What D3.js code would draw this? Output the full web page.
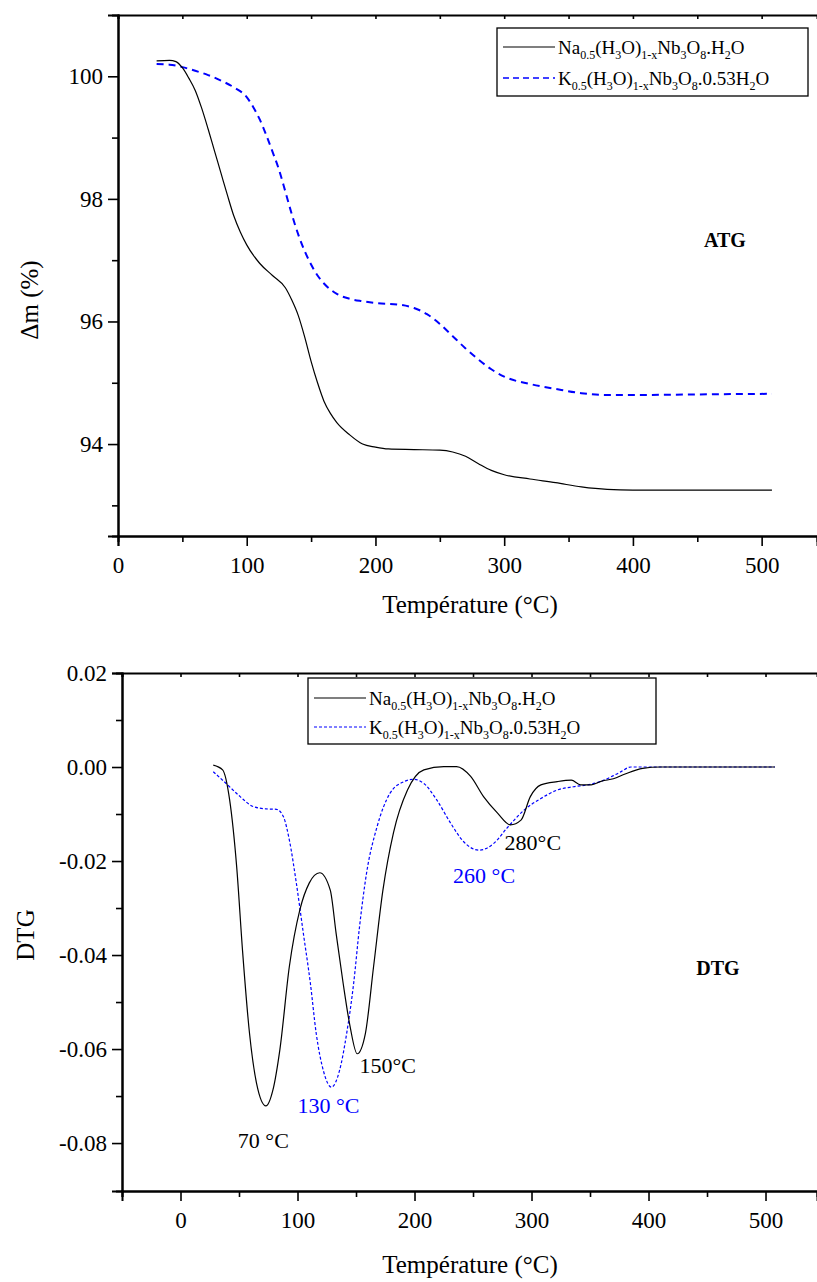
<!DOCTYPE html>
<html>
<head>
<meta charset="utf-8">
<script src="https://cdn.jsdelivr.net/npm/d3@7"></script>
<style>
  body { margin: 0; background: #fff; }
  svg { display: block; }
  text { font-family: "Liberation Serif", "Times New Roman", serif; }
</style>
</head>
<body>
<svg width="817" height="1282"></svg>
<script>
// ATG : temperature (°C) and mass (%)
const atgNaT = [30, 40, 45, 50, 55, 60, 65, 70, 75, 80, 85, 90, 95, 100, 110, 120, 130, 135, 140, 145,
                150, 155, 160, 165, 170, 180, 190, 200, 210, 230, 250, 260, 270, 280, 290, 300, 320, 340, 360, 380,
                400, 450, 508];
const atgNaM = [100.25, 100.26, 100.24, 100.14, 99.97, 99.77, 99.48, 99.14, 98.78, 98.42, 98.06, 97.72, 97.46, 97.25, 96.95, 96.75, 96.55, 96.35, 96.1, 95.75,
                95.35, 95.0, 94.7, 94.5, 94.35, 94.15, 94.0, 93.95, 93.92, 93.91, 93.9, 93.87, 93.8, 93.68, 93.57, 93.5, 93.43, 93.37, 93.3, 93.26,
                93.25, 93.25, 93.25];

const atgKT = [30, 40, 50, 60, 70, 80, 90, 100, 105, 110, 115, 120, 125, 130, 135, 140, 145, 150, 155, 160,
               170, 180, 190, 200, 220, 230, 240, 250, 260, 270, 280, 290, 300, 320, 340, 360, 380, 400, 450, 508];
const atgKM = [100.2, 100.19, 100.15, 100.09, 100.02, 99.93, 99.82, 99.66, 99.5, 99.3, 99.05, 98.77, 98.48, 98.12, 97.75, 97.42, 97.15, 96.93, 96.75, 96.62,
               96.45, 96.37, 96.33, 96.3, 96.27, 96.22, 96.12, 95.96, 95.76, 95.56, 95.38, 95.22, 95.1, 94.98, 94.9, 94.83, 94.8, 94.8, 94.81, 94.82];

// DTG
const dtgNaT = [28, 36, 42, 48, 53, 59, 65, 73, 79, 85, 93, 102, 110, 119, 128, 133, 139, 145, 151, 158,
                165, 173, 182, 194, 208, 225, 236, 248, 259, 271, 282, 291, 299, 308, 322, 334, 342, 351, 360, 370,
                380, 395, 410, 450, 508];
const dtgNa = [0.0004, -0.0006, -0.007, -0.0212, -0.039, -0.0567, -0.0673, -0.0721, -0.0687, -0.060, -0.0425, -0.0304, -0.0247, -0.0225, -0.0262, -0.0354, -0.046, -0.0553, -0.061, -0.0567,
               -0.0425, -0.0262, -0.014, -0.0049, -0.0006, 0.0001, 0.0001, -0.002, -0.0063, -0.0098, -0.0123, -0.0113, -0.0063, -0.0038, -0.0031, -0.0028, -0.0038, -0.0038, -0.003, -0.0025,
               -0.0015, -0.0003, 0, 0, 0];

const dtgKT = [28, 39, 51, 62, 73, 82, 88, 93, 99, 105, 111, 116, 122, 129, 136, 142, 148, 153, 159, 168,
               179, 191, 199, 208, 219, 231, 242, 255, 268, 279, 294, 308, 322, 336, 348, 360, 375, 385, 420, 508];
const dtgK = [-0.001, -0.0035, -0.0063, -0.0084, -0.0089, -0.009, -0.0106, -0.0155, -0.0247, -0.0354, -0.046, -0.0567, -0.0645, -0.0681, -0.0645, -0.0567, -0.046, -0.034, -0.0226, -0.0127,
              -0.0056, -0.0031, -0.0026, -0.0035, -0.007, -0.012, -0.0159, -0.0177, -0.0162, -0.013, -0.0091, -0.0067, -0.0049, -0.0042, -0.0038, -0.003, -0.0012, 0, 0, 0];

// ticks
const atgXTicks = [0, 100, 200, 300, 400, 500];
const atgXMinor = [50, 150, 250, 350, 450];
const atgYTicks = [94, 96, 98, 100];
const atgYMinor = [93, 95, 97, 99];
const dtgXTicks = [0, 100, 200, 300, 400, 500];
const dtgXMinor = [-50, 50, 150, 250, 350, 450];
const dtgYTicks = [-0.08, -0.06, -0.04, -0.02, 0, 0.02];
const dtgYMinor = [-0.07, -0.05, -0.03, -0.01, 0.01];

// legend labels: [text, subscript?]
const labelNa = [["Na", 0], ["0.5", 1], ["(H", 0], ["3", 1], ["O)", 0], ["1-x", 1], ["Nb", 0], ["3", 1], ["O", 0], ["8", 1], [".H", 0], ["2", 1], ["O", 0]];
const labelK = [["K", 0], ["0.5", 1], ["(H", 0], ["3", 1], ["O)", 0], ["1-x", 1], ["Nb", 0], ["3", 1], ["O", 0], ["8", 1], [".0.53H", 0], ["2", 1], ["O", 0]];

// peak labels (placed in data units)
const dtgPeaks = [
    {text: "70 °C", t: 49, v: -0.081, color: "#000"},
    {text: "130 °C", t: 100, v: -0.0736, color: "#0000ff"},
    {text: "150°C", t: 153, v: -0.0651, color: "#000"},
    {text: "260 °C", t: 233, v: -0.0247, color: "#0000ff"},
    {text: "280°C", t: 277, v: -0.0177, color: "#000"}
];

const svg = d3.select("svg");
const BLUE = "#0000ff";
const SERIF = '"Liberation Serif", "Times New Roman", serif';

function drawAxes(g, sx, sy, area, xt, xm, yt, ym, yfmt) {
    const bottom = area.bottom, left = area.left;

    // minor ticks
    g.append("g").attr("transform", `translate(0,${bottom})`)
        .call(d3.axisBottom(sx).tickValues(xm).tickSize(6).tickFormat(""));
    g.append("g").attr("transform", `translate(${left},0)`)
        .call(d3.axisLeft(sy).tickValues(ym).tickSize(6).tickFormat(""));

    // major ticks with labels
    const ax = g.append("g").attr("transform", `translate(0,${bottom})`)
        .call(d3.axisBottom(sx).tickValues(xt).tickSize(10).tickPadding(7).tickFormat(d => d));
    const ay = g.append("g").attr("transform", `translate(${left},0)`)
        .call(d3.axisLeft(sy).tickValues(yt).tickSize(10).tickPadding(5).tickFormat(yfmt));

    // top border with small ticks
    g.append("g").attr("transform", `translate(0,${area.top})`)
        .call(d3.axisTop(sx).tickValues(xt.concat(xm)).tickSize(-4).tickFormat(""));

    g.selectAll("g").attr("font-family", null).attr("font-size", null);
    g.selectAll(".domain").attr("stroke-width", 2).attr("stroke", "#000");
    g.selectAll(".tick line").attr("stroke-width", 1.6);
    [ax, ay].forEach(a => a.selectAll("text")
        .style("font-family", SERIF)
        .style("font-size", "23px").attr("fill", "#000"));
    ax.selectAll("text").attr("dy", "0.85em");
}

function drawLegend(g, box, rows) {
    g.append("rect").attr("x", box.x).attr("y", box.y).attr("width", box.w).attr("height", box.h)
        .attr("fill", "#fff").attr("stroke", "#000").attr("stroke-width", 1.3);
    rows.forEach((r, i) => {
        const cy = box.y + box.first + i * box.step;
        g.append("line").attr("x1", box.x + 6).attr("x2", box.x + 58).attr("y1", cy).attr("y2", cy)
            .attr("stroke", r.color).attr("stroke-width", r.width).attr("stroke-dasharray", r.dash);
        const t = g.append("text").attr("x", box.x + 61).attr("y", cy + 7)
            .style("font-family", SERIF).style("font-size", "19px");
        let down = false;
        r.label.forEach(([s, sub]) => {
            const sp = t.append("tspan").text(s);
            if (sub) { sp.style("font-size", "12px").attr("dy", down ? 0 : 5); down = true; }
            else { sp.attr("dy", down ? -5 : 0); down = false; }
        });
    });
}

function addText(g, x, y, txt, size, opts = {}) {
    const t = g.append("text").attr("text-anchor", opts.anchor || "middle")
        .style("font-family", SERIF).style("font-size", size + "px")
        .attr("fill", opts.color || "#000").text(txt);
    if (opts.bold) t.style("font-weight", "bold");
    if (opts.rotate) t.attr("transform", `translate(${x},${y}) rotate(-90)`);
    else t.attr("x", x).attr("y", y);
    return t;
}

// ---------- ATG ----------
const atgArea = {left: 118, right: 817, top: 15, bottom: 536};
const ax1 = d3.scaleLinear().domain([0, 543]).range([atgArea.left, atgArea.right]);
const ay1 = d3.scaleLinear().domain([92.5, 101]).range([atgArea.bottom, atgArea.top]);
const g1 = svg.append("g");

drawAxes(g1, ax1, ay1, atgArea, atgXTicks, atgXMinor, atgYTicks, atgYMinor, d => d);

const line1 = d3.line().x(d => ax1(d[0])).y(d => ay1(d[1])).curve(d3.curveMonotoneX);
g1.append("path").datum(d3.zip(atgKT, atgKM)).attr("d", line1)
    .attr("fill", "none").attr("stroke", BLUE).attr("stroke-width", 2).attr("stroke-dasharray", "7,5");
g1.append("path").datum(d3.zip(atgNaT, atgNaM)).attr("d", line1)
    .attr("fill", "none").attr("stroke", "#000").attr("stroke-width", 1.2);

drawLegend(g1, {x: 497, y: 28, w: 311, h: 68, first: 19, step: 31}, [
    {label: labelNa, color: "#000", width: 1.2, dash: null},
    {label: labelK, color: BLUE, width: 1.6, dash: "6,4"}
]);

addText(g1, 725, 247, "ATG", 20, {bold: true});
addText(g1, 470, 613, "Température (°C)", 25);
addText(g1, 38, 300, "Δm (%)", 25, {rotate: true});

// ---------- DTG ----------
const dtgArea = {left: 122, right: 817, top: 673, bottom: 1191};
const ax2 = d3.scaleLinear().domain([-50, 544]).range([dtgArea.left, dtgArea.right]);
const ay2 = d3.scaleLinear().domain([-0.0902, 0.02]).range([dtgArea.bottom, dtgArea.top]);
const g2 = svg.append("g");

drawAxes(g2, ax2, ay2, dtgArea, dtgXTicks, dtgXMinor, dtgYTicks, dtgYMinor, d => d.toFixed(2));

const line2 = d3.line().x(d => ax2(d[0])).y(d => ay2(d[1])).curve(d3.curveMonotoneX);
g2.append("path").datum(d3.zip(dtgKT, dtgK)).attr("d", line2)
    .attr("fill", "none").attr("stroke", BLUE).attr("stroke-width", 1.2).attr("stroke-dasharray", "3,2");
g2.append("path").datum(d3.zip(dtgNaT, dtgNa)).attr("d", line2)
    .attr("fill", "none").attr("stroke", "#000").attr("stroke-width", 1.2);

drawLegend(g2, {x: 308, y: 678, w: 348, h: 66, first: 20, step: 29}, [
    {label: labelNa, color: "#000", width: 1.2, dash: null},
    {label: labelK, color: BLUE, width: 1.2, dash: "3,2"}
]);

dtgPeaks.forEach(p => addText(g2, ax2(p.t), ay2(p.v), p.text, 22, {anchor: "start", color: p.color}));

addText(g2, 718, 975, "DTG", 20, {bold: true});
addText(g2, 470, 1273, "Température (°C)", 25);
addText(g2, 34, 935, "DTG", 25, {rotate: true});
</script>
</body>
</html>
